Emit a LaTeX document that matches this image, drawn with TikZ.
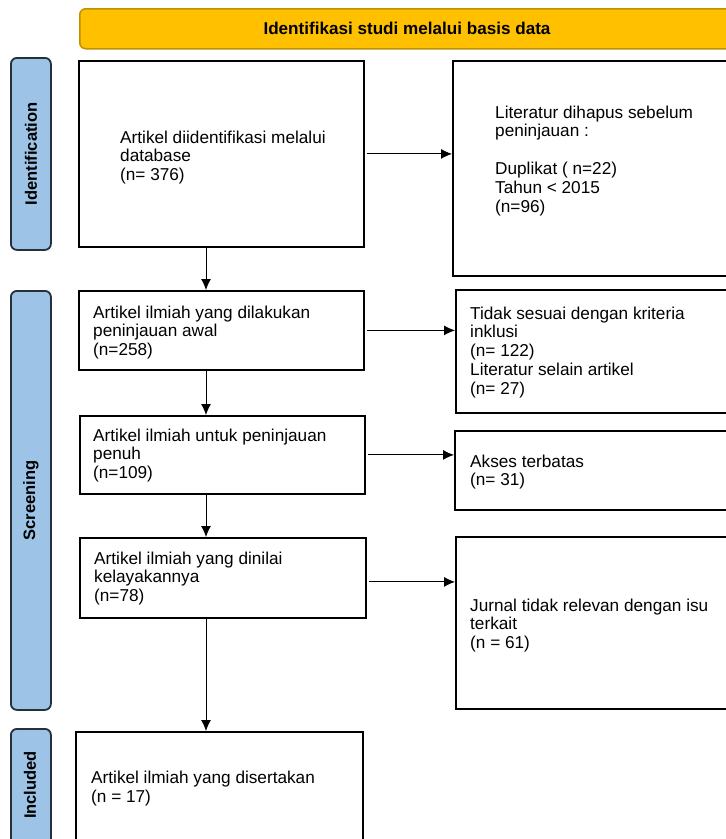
\documentclass[tikz,border=0pt]{standalone}
\usepackage{fontspec}
\setmainfont{Liberation Sans}
\usetikzlibrary{arrows.meta}
\definecolor{bannerfill}{HTML}{FFC000}
\definecolor{bannerline}{HTML}{BF9000}
\definecolor{sidefill}{HTML}{9DC3E6}
\definecolor{sideline}{HTML}{26303B}
\begin{document}
\begin{tikzpicture}[x=1pt,y=-1pt,
  box/.style={draw=black, line width=1.8pt, fill=white, inner sep=0pt, anchor=north west},
  sidebox/.style={draw=sideline, fill=sidefill, line width=1.8pt, rounded corners=6pt, inner sep=0pt, anchor=north west, minimum width=40pt},
  sidelabel/.style={rotate=90, font=\bfseries\fontsize{16.5}{19}\selectfont, inner sep=0pt},
  txt/.style={anchor=base west, align=left, inner sep=0pt, font=\fontsize{17.2}{18.8}\selectfont},
  arr/.style={-{Latex[length=11pt,width=10pt]}, line width=0.9pt}]
\useasboundingbox (0,0) rectangle (726,839);
\clip (0,0) rectangle (726,839);
\fill[white] (0,0) rectangle (726,839);

% banner
\node[draw=bannerline, fill=bannerfill, line width=1.5pt, rounded corners=6pt, anchor=north west,
      minimum width=680pt, minimum height=40pt, inner sep=0pt] (banner) at (79,8) {};
\node[font=\bfseries\fontsize{17.1}{19}\selectfont, inner sep=0pt] (bannertext) at (407,28) {Identifikasi studi melalui basis data};

% side labels
\node[sidebox, minimum height=192pt] (sid) at (10,57) {};
\node[sidelabel] (sidt) at (sid.center) {Identification};
\node[sidebox, minimum height=419pt] (sscr) at (10,290) {};
\node[sidelabel] (sscrt) at (sscr.center) {Screening};
\node[sidebox, minimum height=160pt] (sinc) at (10,728) {};
\node[sidelabel] (sinct) at (30,785) {Included};

% left column boxes
\node[box, minimum width=285pt, minimum height=186pt] (b1) at (78,60) {};
\node[box, minimum width=285pt, minimum height=79pt] (b2) at (78,290) {};
\node[box, minimum width=285pt, minimum height=78pt] (b3) at (79,415) {};
\node[box, minimum width=286pt, minimum height=80pt] (b4) at (79,537) {};
\node[box, minimum width=287pt, minimum height=160pt] (b5) at (75,731) {};

% right column boxes
\node[box, minimum width=300pt, minimum height=215pt] (r1) at (452,60) {};
\node[box, minimum width=300pt, minimum height=123pt] (r2) at (455,289) {};
\node[box, minimum width=300pt, minimum height=79pt] (r3) at (454,430) {};
\node[box, minimum width=300pt, minimum height=172pt] (r4) at (455,536) {};

% texts (anchored at the baseline of the last line)
\node[txt] (t1) at (120,180.6) {Artikel diidentifikasi melalui\\database\\(n= 376)};
\node[txt] (tr1) at (495,212) {Literatur dihapus sebelum\\peninjauan :\\[18.8pt]Duplikat ( n=22)\\Tahun < 2015\\(n=96)};
\node[txt] (t2) at (93,355.6) {Artikel ilmiah yang dilakukan\\peninjauan awal\\(n=258)};
\node[txt] (tr2) at (470,394.2) {Tidak sesuai dengan kriteria\\inklusi\\(n= 122)\\Literatur selain artikel\\(n= 27)};
\node[txt] (t3) at (93,478.6) {Artikel ilmiah untuk peninjauan\\penuh\\(n=109)};
\node[txt] (tr3) at (470,485.8) {Akses terbatas\\(n= 31)};
\node[txt] (t4) at (94,601.6) {Artikel ilmiah yang dinilai\\kelayakannya\\(n=78)};
\node[txt] (tr4) at (470,648.6) {Jurnal tidak relevan dengan isu\\terkait\\(n = 61)};
\node[txt] (t5) at (91,802.3) {Artikel ilmiah yang disertakan\\(n = 17)};

% connectors
\coordinate (ax) at (206,0);
\draw[arr] (b1.south -| ax) -- (b2.north -| ax);
\draw[arr] (b2.south -| ax) -- (b3.north -| ax);
\draw[arr] (b3.south -| ax) -- (b4.north -| ax);
\draw[arr] (b4.south -| ax) -- (b5.north -| ax);

\draw[arr] ([xshift=2pt]b1.east) -- (b1.east -| r1.west);
\draw[arr] ([xshift=2pt]b2.east) -- (b2.east -| r2.west);
\draw[arr] ([xshift=2pt]b3.east) -- (b3.east -| r3.west);
\draw[arr] ([xshift=2pt,yshift=-4pt]b4.east) -- ([yshift=-4pt]b4.east -| r4.west);
\end{tikzpicture}
\end{document}
